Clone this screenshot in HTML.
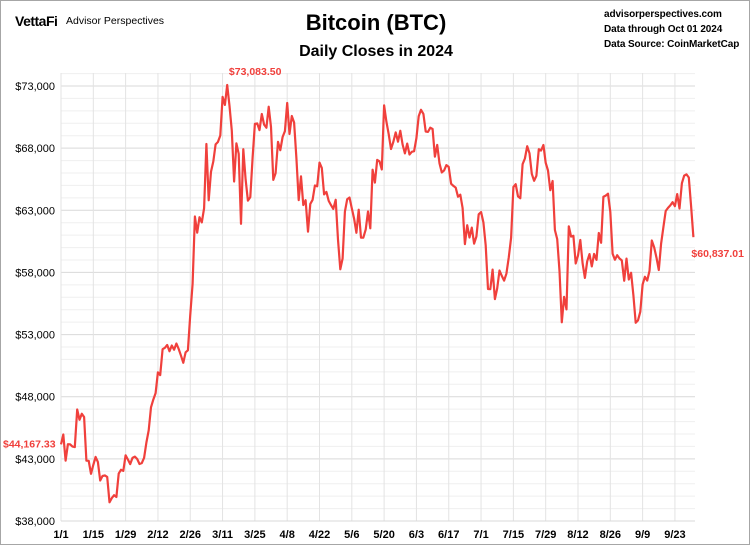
<!DOCTYPE html>
<html><head><meta charset="utf-8">
<style>
html,body{margin:0;padding:0;background:#fff;}
#wrap{position:relative;width:748px;height:543px;border:1px solid #a6a6a6;overflow:hidden;font-family:"Liberation Sans",sans-serif;}
.hdr{position:absolute;font-weight:bold;color:#000;white-space:nowrap;}
</style></head>
<body>
<div id="wrap">
<div class="hdr" style="left:14px;top:12px;font-size:14px;letter-spacing:-0.5px;">VettaFi</div>
<div class="hdr" style="left:65px;top:14px;font-size:10.5px;font-weight:normal;">Advisor Perspectives</div>
<div class="hdr" style="left:0;width:750px;text-align:center;top:9px;font-size:22px;">Bitcoin (BTC)</div>
<div class="hdr" style="left:0;width:750px;text-align:center;top:42px;font-size:16px;">Daily Closes in 2024</div>
<div class="hdr" style="left:603px;top:6px;font-size:10px;line-height:15px;letter-spacing:-0.1px;">advisorperspectives.com<br>Data through Oct 01 2024<br>Data Source: CoinMarketCap</div>
<svg id="chart" width="750" height="545" style="position:absolute;left:-1px;top:-1px"></svg>
</div>
<script>
const startDate = "2024-01-01";
const xTickLabels = ["1/1","1/15","1/29","2/12","2/26","3/11","3/25","4/8","4/22","5/6","5/20","6/3","6/17","7/1","7/15","7/29","8/12","8/26","9/9","9/23"];
const yTicks = [38000,43000,48000,53000,58000,63000,68000,73000];
const closes = [44167,44957,42848,44179,44162,43989,43943,46970,46139,46627,46368,42853,42842,41796,42511,43154,42742,41262,41618,41665,41545,39507,39845,40077,39933,41816,42120,42035,43288,42952,42582,43075,43185,42992,42583,42658,43084,44318,45301,47147,47771,48293,49958,49742,51826,51938,52160,51663,52122,51779,52284,51839,51304,50731,51571,51733,54522,57085,62504,61198,62440,62029,63167,68330,63801,66106,66925,68300,68498,69019,72123,71481,73083,71396,69403,65316,68390,67548,61912,67913,65491,63778,64062,67234,69958,69987,69455,70744,69892,69645,71333,69702,65446,65980,68508,67837,68896,69362,71631,69139,70587,70060,67195,63821,65738,63426,63811,61276,63512,63843,64994,64927,66837,66407,64276,64481,63755,63419,63113,63841,60636,58254,59123,62889,63891,64031,63161,62334,61187,63049,60792,60793,61448,62901,61553,66267,65231,67051,66940,66278,71448,70136,69122,67929,68526,69265,68518,69394,68296,67578,68364,67491,67706,67751,68804,70567,71082,70757,69342,69305,69648,69540,67314,68263,66774,66044,66207,66639,66490,65140,64960,64828,64096,64252,63180,60277,61804,60812,61604,60320,60887,62678,62851,62029,60173,56663,56662,58231,55857,56714,58152,57717,57344,57899,59231,60787,64870,65097,64118,63974,66710,67164,68154,67585,65927,65372,65778,67912,67813,68255,66819,66202,64619,65357,61415,60681,58116,53991,56034,55027,61710,60881,60945,58719,59354,60610,58737,57560,58894,59478,58483,59493,59012,61175,60382,64094,64178,64333,62880,59504,59027,59388,59119,58969,57326,59112,57431,57971,56160,53948,54139,54841,57019,57648,57343,58127,60571,60005,59182,58192,60308,61649,62940,63192,63394,63648,63329,64301,63143,65181,65790,65887,65635,63329,60837.01];
const firstLabel = "$44,167.33";
const peakLabel = "$73,083.50";
const lastLabel = "$60,837.01";

const svg = document.getElementById('chart');
const NS = 'http://www.w3.org/2000/svg';
const X0=61, X1=695, YT=73, YB=521;
const yMin=38000, yMax=73000, yTopPx=86;
function xs(i){return 61 + i*2.308;}
function ys(v){return YB - (v-yMin)/(yMax-yMin)*(YB-yTopPx);}
function mk(tag, attrs){const e=document.createElementNS(NS,tag);for(const k in attrs)e.setAttribute(k,attrs[k]);svg.appendChild(e);return e;}
for(let v=yMin; v<=yMax+1000; v+=1000){
  const y=ys(v); if(y<YT) continue;
  const g=mk('line',{x1:X0,x2:X1,y1:y,y2:y,stroke:(v%5000===3000)?'#d9d9d9':'#efefef','stroke-width':1});
  
  
}
yTicks.forEach(v=>{
  const t=mk('text',{x:X0-6,y:ys(v)+4,'text-anchor':'end','font-size':11,fill:'#000','font-family':'Liberation Sans, sans-serif'});
  t.textContent='$'+v.toLocaleString('en-US');
  
  
});
xTickLabels.forEach((lab,k)=>{
  const x=xs(k*14);
  const g=mk('line',{x1:x,x2:x,y1:YT,y2:YB,stroke:'#e3e3e3','stroke-width':1});
  
  
  const t=mk('text',{x:x,y:YB+17,'text-anchor':'middle','font-size':11,'font-weight':'bold',fill:'#000','font-family':'Liberation Sans, sans-serif'});
  t.textContent=lab;
  
  
});
const ax=mk('line',{x1:X0,x2:X1,y1:YB,y2:YB,stroke:'#d9d9d9','stroke-width':1});


let d='';
closes.forEach((v,i)=>{d+=(i?'L':'M')+xs(i).toFixed(1)+','+ys(v).toFixed(1);});
const p=mk('path',{d:d,fill:'none',stroke:'#f0403c','stroke-width':2.2,'stroke-linejoin':'round'});


let pk=0; closes.forEach((v,i)=>{if(v>closes[pk])pk=i;});
const labs=[[firstLabel,3,ys(closes[0])+3,'start','first-value-label'],[peakLabel,xs(pk)+28,ys(closes[pk])-10,'middle','peak-value-label'],[lastLabel,xs(closes.length-1)-2,ys(closes[closes.length-1])+20,'start','last-value-label']];
labs.forEach(l=>{
  const t=mk('text',{x:l[1],y:l[2],'text-anchor':l[3],'font-size':10.5,'font-weight':'bold',fill:'#f0403c','font-family':'Liberation Sans, sans-serif'});
  t.textContent=l[0];
  
  
});
</script>
</body></html>
